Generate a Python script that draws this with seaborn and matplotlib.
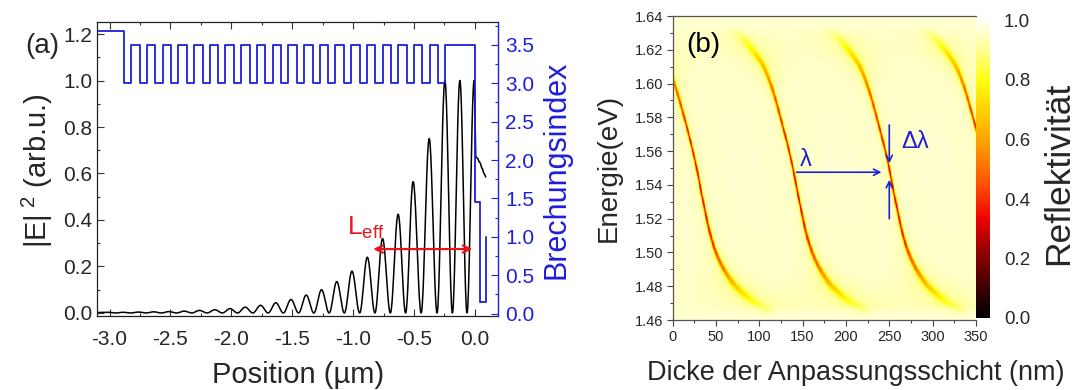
import numpy as np
import pandas as pd
import matplotlib
matplotlib.use("Agg")
import matplotlib.pyplot as plt
import seaborn as sns
from matplotlib.colors import LinearSegmentedColormap
from matplotlib.ticker import MultipleLocator, FormatStrFormatter, FixedLocator

# ---------------- data: panel (a) ----------------
# layer stack: start position, layer thicknesses (um) and refractive indices
x_start = -3.10
layer_thickness = [0.22, 0.058] + [0.070, 0.059] * 20 + [0.246, 0.036, 0.048]
layer_index = [3.68, 3.00] + [3.50, 3.00] * 20 + [3.50, 1.45, 0.15]
air_index = 1.0

# |E|^2 : positions and heights of the field maxima
field_peak_x = [-3.013, -2.888, -2.763, -2.637, -2.512, -2.387, -2.262, -2.136,
                -2.011, -1.886, -1.760, -1.635, -1.510, -1.385, -1.259, -1.134,
                -1.009, -0.883, -0.758, -0.630, -0.507, -0.375, -0.246, -0.123,
                -0.006]
field_peak_h = [0.003, 0.003, 0.004, 0.005, 0.006, 0.008, 0.011, 0.014,
                0.019, 0.025, 0.033, 0.044, 0.058, 0.077, 0.100, 0.135,
                0.180, 0.240, 0.320, 0.425, 0.565, 0.750, 1.000, 1.000,
                1.000]
field_start = (-3.10, 0.002)
# field in the top layers
tail_x = [0.008, 0.02, 0.04, 0.06, 0.075, 0.09]
tail_y = [0.670, 0.666, 0.648, 0.622, 0.600, 0.585]

# L_eff arrow
leff_x = [-0.835, -0.02]
leff_y = 0.275

# ---------------- data: panel (b) ----------------
thick_range = (0, 350)        # nm
energy_range = (1.46, 1.64)   # eV
# one resonance branch (energy -> thickness)
branch_E = [1.466, 1.472, 1.4837, 1.503, 1.531, 1.553, 1.580, 1.600, 1.610, 1.624, 1.632]
branch_d = [330.0, 312.0, 289.0, 270.0, 257.0, 248.6, 235.5, 224.0, 216.0, 197.0, 183.0]
branch_shift = [-222.0, -111.0, 0.0, 111.0]
# dip depth and width along the branch
dip_E = [1.462, 1.470, 1.480, 1.490, 1.505, 1.525, 1.550, 1.575, 1.595, 1.607, 1.617, 1.625, 1.634]
dip_depth = [0.00, 0.08, 0.22, 0.40, 0.55, 0.60, 0.60, 0.57, 0.46, 0.30, 0.17, 0.08, 0.00]
dip_width = [5.0, 4.0, 3.0, 2.2, 1.6, 1.3, 1.2, 1.3, 1.6, 2.2, 3.0, 4.0, 5.0]   # px
halo_depth = [0.00, 0.06, 0.08, 0.06, 0.04, 0.03, 0.03, 0.03, 0.04, 0.06, 0.07, 0.05, 0.00]
halo_width = [14, 12, 10, 8, 6, 5, 5, 5, 6, 8, 10, 12, 14]  # px
background_R = 0.962

cbar_ticks = [0.0, 0.2, 0.4, 0.6, 0.8, 1.0]
cmap_stops = [0.0, 0.12, 0.24, 0.33, 0.45, 0.58, 0.70, 0.80, 0.90, 1.0]
cmap_cols = ['#000000', '#4a0000', '#a00000', '#ee0000', '#ff5000',
             '#ff9a00', '#ffd200', '#ffff10', '#ffff90', '#fffff2']

# ---------------- style ----------------
sns.set_theme(style="white")
plt.rcParams['font.family'] = ['Liberation Sans', 'DejaVu Sans']
plt.rcParams['mathtext.fontset'] = 'custom'
plt.rcParams['mathtext.rm'] = 'Liberation Sans'
plt.rcParams['mathtext.it'] = 'Liberation Sans'
plt.rcParams['axes.unicode_minus'] = False

BLUE = '#1E1EDC'
RED = '#E8141E'
W, H = 1077, 390

fig = plt.figure(figsize=(W / 100, H / 100), dpi=100)


def fbox(l, t, r, b):
    return [l / W, 1 - b / H, (r - l) / W, (b - t) / H]


def pchip(x, y, xn):
    """monotone cubic through the read points (smooth rendering of a curve)"""
    x = np.asarray(x, float)
    y = np.asarray(y, float)
    h = np.diff(x)
    dl = np.diff(y) / h
    m = np.zeros_like(y)
    m[0], m[-1] = dl[0], dl[-1]
    for i in range(1, len(x) - 1):
        if dl[i - 1] * dl[i] > 0:
            w1 = 2 * h[i] + h[i - 1]
            w2 = h[i] + 2 * h[i - 1]
            m[i] = (w1 + w2) / (w1 / dl[i - 1] + w2 / dl[i])
    xn = np.clip(xn, x[0], x[-1])
    k = np.clip(np.searchsorted(x, xn) - 1, 0, len(x) - 2)
    t = (xn - x[k]) / h[k]
    h00 = 2 * t ** 3 - 3 * t ** 2 + 1
    h10 = t ** 3 - 2 * t ** 2 + t
    h01 = -2 * t ** 3 + 3 * t ** 2
    h11 = t ** 3 - t ** 2
    return h00 * y[k] + h10 * h[k] * m[k] + h01 * y[k + 1] + h11 * h[k] * m[k + 1]


# ================= panel (a) =================
axA = fig.add_axes(fbox(96.5, 21.7, 498, 316))

# build the field curve from the read extrema
knots_x = [field_start[0]]
knots_y = [field_start[1]]
for i, (px, ph) in enumerate(zip(field_peak_x, field_peak_h)):
    if i > 0:
        knots_x.append(0.5 * (field_peak_x[i - 1] + px))
        knots_y.append(0.0)
    knots_x.append(px)
    knots_y.append(ph)
knots_x += tail_x
knots_y += tail_y
fx, fy = [], []
for i in range(len(knots_x) - 1):
    t = np.linspace(0, 1, 24, endpoint=False)
    s = (1 - np.cos(np.pi * t)) / 2
    fx.extend(knots_x[i] + (knots_x[i + 1] - knots_x[i]) * t)
    fy.extend(knots_y[i] + (knots_y[i + 1] - knots_y[i]) * s)
fx.append(knots_x[-1])
fy.append(knots_y[-1])
field_df = pd.DataFrame({'x': fx, 'y': fy})
sns.lineplot(data=field_df, x='x', y='y', ax=axA, color='black', lw=1.1,
             sort=False, estimator=None)

axA.set_xlim(-3.107, 0.19)
axA.set_ylim(-0.013, 1.253)
axA.set_xlabel('')
axA.set_ylabel('')
axA.xaxis.set_major_locator(MultipleLocator(0.5))
axA.xaxis.set_minor_locator(MultipleLocator(0.25))
axA.yaxis.set_major_locator(MultipleLocator(0.2))
axA.yaxis.set_minor_locator(MultipleLocator(0.1))
axA.xaxis.set_major_formatter(FormatStrFormatter('%.1f'))
axA.yaxis.set_major_formatter(FormatStrFormatter('%.1f'))
axA.tick_params(which='both', direction='in', top=True, right=False, bottom=True, left=True,
                color='#333333', width=0.8)
axA.tick_params(which='major', length=5)
axA.tick_params(which='minor', length=2.5)
axA.tick_params(axis='x', which='major', labelsize=15, pad=10)
axA.tick_params(axis='y', which='major', labelsize=15, pad=3)
for s in ['left', 'bottom', 'top']:
    axA.spines[s].set_color('#222222')
    axA.spines[s].set_linewidth(0.9)
axA.spines['right'].set_visible(False)

# L_eff arrow and label
axA.annotate('', xy=(leff_x[0], leff_y), xytext=(leff_x[1], leff_y),
             arrowprops=dict(arrowstyle='<->', color=RED, lw=1.6, mutation_scale=13,
                             shrinkA=0, shrinkB=0))
axA.text(-1.05, 0.338, r'L$_{\mathrm{eff}}$', color=RED, fontsize=19,
         ha='left', va='baseline')

# refractive index profile on twin axis
axB = axA.twinx()
edges = [x_start]
for t in layer_thickness:
    edges.append(edges[-1] + t)
vals = layer_index + [air_index]
step_df = pd.DataFrame({'x': edges, 'n': vals})
sns.lineplot(data=step_df, x='x', y='n', ax=axB, color=BLUE, lw=1.3,
             drawstyle='steps-post', sort=False, estimator=None)
axB.set_ylim(-0.03, 3.80)
axB.set_ylabel('')
axB.set_xlabel('')
axB.yaxis.set_major_locator(MultipleLocator(0.5))
axB.yaxis.set_minor_locator(MultipleLocator(0.25))
axB.yaxis.set_major_formatter(FormatStrFormatter('%.1f'))
axB.tick_params(axis='y', which='both', direction='in', right=True, left=False,
                color=BLUE, labelcolor=BLUE, width=0.8)
axB.tick_params(axis='y', which='major', length=5, labelsize=15, pad=5)
axB.tick_params(axis='y', which='minor', length=2.5)
for s in ['left', 'bottom', 'top']:
    axB.spines[s].set_visible(False)
axB.spines['right'].set_color(BLUE)
axB.spines['right'].set_linewidth(1.0)

fig.text(42 / W, 1 - 46 / H, '(a)', fontsize=20, ha='center', va='center')
fig.text(37 / W, 1 - 171 / H, '|E|$^{\\ 2}$ (arb.u.)', fontsize=21, rotation=90,
         ha='center', va='center')
fig.text(556 / W, 1 - 170 / H, 'Brechungsindex', fontsize=22, rotation=90,
         ha='center', va='center', color=BLUE)
fig.text(298 / W, 1 - 375 / H, 'Position (µm)', fontsize=21, ha='center', va='center')

# ================= panel (b) =================
axH = fig.add_axes(fbox(672.5, 16, 976, 320))
cax = fig.add_axes(fbox(976, 20.5, 990, 318))

N, M = 700, 560
d_c = thick_range[0] + (np.arange(N) + 0.5) * (thick_range[1] - thick_range[0]) / N
E_c = energy_range[1] - (np.arange(M) + 0.5) * (energy_range[1] - energy_range[0]) / M
px_per_nm = (976 - 672.5) / (thick_range[1] - thick_range[0])
px_per_eV = (320 - 16) / (energy_range[1] - energy_range[0])

depth = np.interp(E_c, dip_E, dip_depth)
width = np.interp(E_c, dip_E, dip_width)
hdepth = np.interp(E_c, dip_E, halo_depth)
hwidth = np.interp(E_c, dip_E, halo_width)
dres0 = pchip(branch_E, branch_d, E_c)
slope = np.gradient(dres0 * px_per_nm, E_c * px_per_eV)  # dx/dy in px
perp = 1.0 / np.sqrt(1 + slope ** 2)

R = np.full((M, N), background_R)
for sh in branch_shift:
    off = (d_c[None, :] - (dres0 + sh)[:, None]) * px_per_nm * perp[:, None]
    R -= depth[:, None] * np.exp(-(off / width[:, None]) ** 2)
    R -= hdepth[:, None] / (1 + (off / hwidth[:, None]) ** 2)
R = np.clip(R, 0, 1)
refl_df = pd.DataFrame(R, index=np.round(E_c, 5), columns=np.round(d_c, 3))

cmap = LinearSegmentedColormap.from_list('refl', list(zip(cmap_stops, cmap_cols)))
sns.heatmap(refl_df, ax=axH, cmap=cmap, vmin=0, vmax=1, cbar_ax=cax,
            xticklabels=False, yticklabels=False, rasterized=True)
axH.set_xlabel('')
axH.set_ylabel('')


def hx(d):
    return (d - thick_range[0]) / (thick_range[1] - thick_range[0]) * N


def hy(e):
    return (energy_range[1] - e) / (energy_range[1] - energy_range[0]) * M


xt = [0, 50, 100, 150, 200, 250, 300, 350]
yt = [1.46, 1.48, 1.50, 1.52, 1.54, 1.56, 1.58, 1.60, 1.62, 1.64]
axH.xaxis.set_major_locator(FixedLocator([hx(v) for v in xt]))
axH.set_xticklabels([str(v) for v in xt])
axH.xaxis.set_minor_locator(FixedLocator([hx(v + 25) for v in xt[:-1]]))
axH.yaxis.set_major_locator(FixedLocator([hy(v) for v in yt]))
axH.set_yticklabels(['%.2f' % v for v in yt])
axH.yaxis.set_minor_locator(FixedLocator([hy(v + 0.01) for v in yt[:-1]]))
axH.tick_params(which='both', direction='out', bottom=True, left=True, top=False, right=False,
                color='#444444', width=0.8)
axH.tick_params(which='major', length=4)
axH.tick_params(which='minor', length=2)
axH.tick_params(axis='x', labelsize=10.5, pad=3, labelrotation=0)
axH.tick_params(axis='y', labelsize=10.5, pad=2.5, labelrotation=0)
for s in axH.spines.values():
    s.set_visible(True)
    s.set_color('#555555')
    s.set_linewidth(0.9)
axH.spines['right'].set_visible(False)

cbar = axH.collections[0].colorbar
cbar.outline.set_visible(False)
cbar.set_ticks(cbar_ticks)
cbar.set_ticklabels(['%.1f' % v for v in cbar_ticks])
cax.tick_params(length=0, labelsize=13.5, pad=10)

# annotations in panel (b)
ann = dict(arrowstyle='->', color=BLUE, lw=1.2, mutation_scale=11, shrinkA=0, shrinkB=0)
axH.annotate('', xy=(hx(241), hy(1.5475)), xytext=(hx(143), hy(1.5475)), arrowprops=ann)
axH.annotate('', xy=(hx(250), hy(1.5528)), xytext=(hx(250), hy(1.5755)), arrowprops=ann)
axH.annotate('', xy=(hx(250), hy(1.5430)), xytext=(hx(250), hy(1.5200)), arrowprops=ann)
axH.text(hx(154), hy(1.5545), 'λ', color=BLUE, fontsize=17, ha='center', va='center')
axH.text(hx(280), hy(1.5655), 'Δλ', color=BLUE, fontsize=17, ha='center', va='center')
axH.text(hx(35), hy(1.6228), '(b)', color='black', fontsize=20, ha='center', va='center')

fig.text(609 / W, 1 - 168 / H, 'Energie(eV)', fontsize=20, rotation=90,
         ha='center', va='center')
fig.text(856 / W, 1 - 373 / H, 'Dicke der Anpassungsschicht (nm)', fontsize=19.5,
         ha='center', va='center')
fig.text(1059 / W, 1 - 173 / H, 'Reflektivität', fontsize=25.5, rotation=90,
         ha='center', va='center')

fig.savefig('out.png', dpi=100)
